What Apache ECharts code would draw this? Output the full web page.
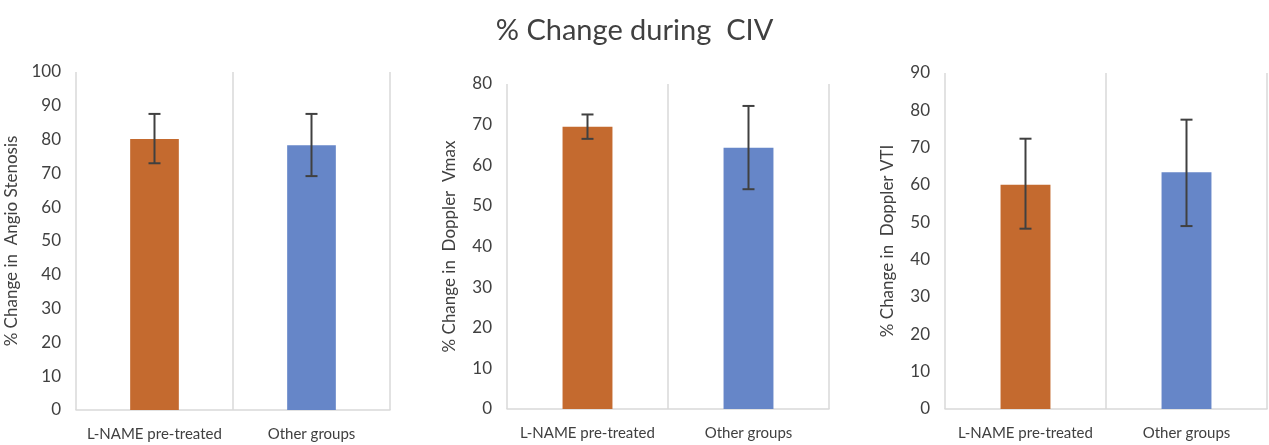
<!DOCTYPE html>
<html><head><meta charset="utf-8">
<script src="https://cdn.jsdelivr.net/npm/echarts@6/dist/echarts.min.js"></script>
<style>html,body{margin:0;padding:0;background:#fff}#c{width:1269px;height:445px}</style>
</head><body><div id="c"></div>
<script>
var categories = ['L-NAME pre-treated', 'Other groups'];
var titleText = '% Change during  CIV';
var axisNames = ['% Change in  Angio Stenosis', '% Change in  Doppler  Vmax', '% Change in  Doppler VTI'];
var yMax = [100, 80, 90];
var angioVals = [80.2, 78.3];
var angioLow = [73.0, 69.2];
var angioHigh = [87.6, 87.6];
var vmaxVals = [69.5, 64.3];
var vmaxLow = [66.5, 54.1];
var vmaxHigh = [72.5, 74.6];
var vtiVals = [60.1, 63.4];
var vtiLow = [48.3, 49.0];
var vtiHigh = [72.4, 77.5];
var barColors = ['#C46A2F', '#6686C8'];

var FONT = 'Lato, "Open Sans", sans-serif';
var panels = [
  {vals: angioVals, low: angioLow, high: angioHigh},
  {vals: vmaxVals, low: vmaxLow, high: vmaxHigh},
  {vals: vtiVals, low: vtiLow, high: vtiHigh}
];
var grids = [
  {left: 76, width: 314, top: 72, bottom: 35},
  {left: 507, width: 322, top: 84, bottom: 36},
  {left: 945, width: 322, top: 73, bottom: 36}
];
var nameGaps = [56, 49, 49];

var xAxes = [], yAxes = [], series = [];
panels.forEach(function (p, i) {
  xAxes.push({
    type: 'category', gridIndex: i, data: categories,
    axisLine: {lineStyle: {color: '#d9d9d9', width: 1.5}},
    axisTick: {show: false},
    splitLine: {show: true, lineStyle: {color: '#d9d9d9', width: 1.5}},
    axisLabel: {color: '#404040', fontSize: 15, fontFamily: FONT, margin: 17, interval: 0}
  });
  yAxes.push({
    type: 'value', gridIndex: i, min: 0, max: yMax[i], interval: 10,
    axisLine: {show: false}, axisTick: {show: false}, splitLine: {show: false},
    axisLabel: {color: '#404040', fontSize: 17, fontFamily: FONT, margin: 15},
    name: axisNames[i], nameLocation: 'middle', nameGap: nameGaps[i],
    nameTextStyle: {color: '#404040', fontSize: 17, fontFamily: FONT}
  });
  series.push({
    type: 'bar', xAxisIndex: i, yAxisIndex: i, barWidth: '31%',
    data: p.vals.map(function (v, j) {
      return {value: v, itemStyle: {color: barColors[j]}};
    })
  });
  series.push({
    type: 'custom', xAxisIndex: i, yAxisIndex: i, z: 10,
    data: p.vals.map(function (v, j) { return [j, p.low[j], p.high[j]]; }),
    renderItem: function (params, api) {
      var lo = api.coord([api.value(0), api.value(1)]);
      var hi = api.coord([api.value(0), api.value(2)]);
      var hw = 6;
      var st = {stroke: '#404040', lineWidth: 2};
      return {type: 'group', children: [
        {type: 'line', shape: {x1: lo[0], y1: lo[1], x2: hi[0], y2: hi[1]}, style: st},
        {type: 'line', shape: {x1: lo[0] - hw, y1: lo[1], x2: lo[0] + hw, y2: lo[1]}, style: st},
        {type: 'line', shape: {x1: hi[0] - hw, y1: hi[1], x2: hi[0] + hw, y2: hi[1]}, style: st}
      ]};
    }
  });
});

var chart = echarts.init(document.getElementById('c'));
chart.setOption({
  animation: false,
  backgroundColor: '#fff',
  title: {text: titleText, left: 'center', top: 11,
    textStyle: {color: '#404040', fontSize: 29, fontWeight: 'normal', fontFamily: FONT}},
  grid: grids,
  xAxis: xAxes,
  yAxis: yAxes,
  series: series
});
</script></body></html>
